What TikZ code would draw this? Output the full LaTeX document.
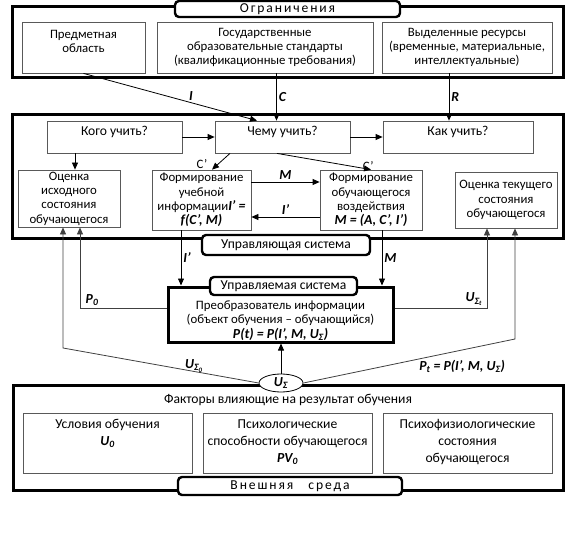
\documentclass[tikz,border=0pt]{standalone}
\usepackage{fontspec}
\setmainfont{Carlito}
\usetikzlibrary{positioning,shapes.geometric,arrows.meta}

\newcommand{\bi}[1]{{\fontsize{13.8pt}{14.3pt}\selectfont\bfseries\itshape #1}}
\newcommand{\spaced}[1]{{\addfontfeature{LetterSpace=14}#1}}

\begin{document}
\begin{tikzpicture}[
    x=1pt, y=-1pt,
    every node/.style={font=\fontsize{12.8pt}{14.3pt}\selectfont},
    big/.style={font=\fontsize{13.6pt}{17pt}\selectfont},
    frame/.style={draw, line width=3pt},
    tab/.style={draw, line width=2.4pt, rounded corners=4pt, fill=white, inner sep=0pt, big},
    box/.style={draw=black!65, line width=0.8pt, fill=white, align=center, inner sep=0.5pt},
    intext/.style={anchor=north, align=center, inner sep=5pt},
    lowtext/.style={intext, big, inner sep=6.5pt},
    arrow/.style={-{Triangle[length=7pt,width=6pt]}, line width=0.8pt},
    fb/.style={line width=0.8pt, draw=black!75},
    lbl/.style={font=\fontsize{13.8pt}{14.3pt}\selectfont\bfseries\itshape, inner sep=2pt}
  ]
    \useasboundingbox (0,0) rectangle (574,543);

    % outer frames
    \node[frame, minimum width=551pt, minimum height=71pt] (limits) at (287.5,42.5) {};
    \node[frame, minimum width=551pt, minimum height=123pt] (ctrl) at (287.5,176.5) {};
    \node[frame, minimum width=550pt, minimum height=105pt] (env) at (288,437.5) {};

    % restrictions
    \node[box, minimum width=123pt, minimum height=51pt,
      label={[intext, yshift=-3pt]north:Предметная\\область}] (subj) at (83.5,47.5) {};
    \node[box, minimum width=216pt, minimum height=51pt] (gos) at (265,47.5)
      {Государственные\\образовательные стандарты\\(квалификационные требования)};
    \node[box, minimum width=170pt, minimum height=51pt] (res) at (467,47.5)
      {Выделенные ресурсы\\(временные, материальные,\\интеллектуальные)};

    % control system
    \node[box, minimum width=135pt, minimum height=32pt,
      label={[intext, big]north:Кого учить?}] (whom) at (114.5,137) {};
    \node[box, minimum width=135pt, minimum height=32pt,
      label={[intext, big]north:Чему учить?}] (what) at (282.5,137) {};
    \node[box, minimum width=150pt, minimum height=32pt,
      label={[intext, big]north:Как учить?}] (how) at (458,137) {};
    \node[box, minimum width=102pt, minimum height=57pt] (est0) at (69,198.5)
      {Оценка\\исходного\\состояния\\обучающегося};
    \node[box, minimum width=99pt, minimum height=60pt] (info) at (201.5,200)
      {Формирование\\учебной\\информации\bi{I’ =}\\\bi{f(C’, M)}};
    \node[box, minimum width=102pt, minimum height=60pt] (infl) at (371,200)
      {Формирование\\обучающегося\\воздействия\\\bi{M = (A, C’, I’)}};
    \node[box, minimum width=102pt, minimum height=56pt] (est1) at (506,200)
      {Оценка текущего\\состояния\\обучающегося};

    % controlled system
    \node[frame, fill=white, minimum width=225pt, minimum height=55pt,
      label={[intext, yshift=-10pt]north:Преобразователь информации\\(объект обучения – обучающийся)\\\bi{P(t) = P(I’, M, U\textsubscript{Σ})}}] (plant) at (280.5,314.5) {};

    % environment
    \node[big] (factors) at (288,400) {Факторы влияющие на результат обучения};
    \node[box, minimum width=169pt, minimum height=60pt,
      label={[lowtext]north:Условия обучения\\\bi{U\textsubscript{0}}}] (cond) at (107.5,443) {};
    \node[box, minimum width=169pt, minimum height=60pt,
      label={[lowtext]north:Психологические\\способности обучающегося\\\bi{PV\textsubscript{0}}}] (psy) at (287.5,443) {};
    \node[box, minimum width=169pt, minimum height=60pt,
      label={[lowtext]north:Психофизиологические\\состояния\\обучающегося}] (phys) at (467.5,443) {};

    % tabs
    \node[tab, minimum width=225pt, minimum height=16pt] (limtab) at (287.5,9) {\spaced{Ограничения}};
    \node[tab, minimum width=168pt, minimum height=20pt] (ctrltab) at (286,245) {Управляющая система};
    \node[tab, minimum width=147pt, minimum height=18pt] (planttab) at (283.5,286) {Управляемая система};
    \node[tab, minimum width=224pt, minimum height=18pt] (envtab) at (290,486) {\spaced{Внешняя\ \ \ среда}};

    \node[ellipse, draw, line width=0.8pt, fill=white, minimum width=44pt, minimum height=18pt,
      inner sep=0pt] (usig) at (281,383) {\bi{U\textsubscript{Σ}}};

    \coordinate (u0c) at (63,348);
    \coordinate (ptc) at (515,339);

    % restrictions to control
    \draw[arrow] (subj.south) -- node[lbl, pos=0.62, above]{I} ([xshift=-25.5pt]what.north);
    \draw[arrow] ([xshift=-6pt]what.north |- gos.south) -- node[lbl, right]{C} ([xshift=-6pt]what.north);
    \draw[arrow] ([xshift=-9pt]how.north |- res.south) -- node[lbl, right]{R} ([xshift=-9pt]how.north);

    % inside control system
    \draw[arrow] (whom) -- (what);
    \draw[arrow] (what) -- (how);
    \draw[arrow] ([xshift=6pt]est0.north |- whom.south) -- ([xshift=6pt]est0.north);
    \draw[arrow] ([xshift=-52.5pt]what.south) -- node[pos=0.5, left=10pt, yshift=-2.5pt]{C’} ([xshift=10.5pt]info.north);
    \draw[arrow] ([xshift=-5.5pt]what.south) -- node[pos=0.97, above=-5pt]{C’} (infl.north);
    \draw[arrow] ([yshift=18pt]info.east) -- node[lbl, above]{M} ([yshift=18pt]info.east -| infl.west);
    \draw[arrow] ([yshift=-17pt]infl.west) -- node[lbl, above]{I’} ([yshift=-17pt]infl.west -| info.east);

    % control to controlled
    \draw[arrow] ([xshift=-20.5pt]info.south) -- node[lbl, right]{I’} ([xshift=-20.5pt]info.south |- plant.north);
    \draw[arrow] ([xshift=11pt]infl.south) -- node[lbl, right]{M} ([xshift=11pt]infl.south |- plant.north);

    % feedback
    \draw[fb, arrow] ([yshift=6.5pt]plant.west) -| node[lbl, pos=0.43, above]{P\textsubscript{0}} ([xshift=11pt]est0.south);
    \draw[fb, arrow] ([yshift=6.5pt]plant.east) -| node[lbl, pos=0.43, above]{U\textsubscript{Σ\textsubscript{t}}} ([xshift=-19pt]est1.south);
    \draw[fb, arrow] (usig.west) -- node[lbl, pos=0.33, above=-3pt]{U\textsubscript{Σ\textsubscript{0}}} (u0c) -- ([xshift=-6pt]est0.south);
    \draw[fb, arrow] (usig.east) -- node[lbl, pos=0.75, below=8pt]{P\textsubscript{t} = P(I’, M, U\textsubscript{Σ})} (ptc) -- ([xshift=9pt]est1.south);
    \draw[arrow] (usig.north) -- (usig.north |- plant.south);
\end{tikzpicture}
\end{document}
